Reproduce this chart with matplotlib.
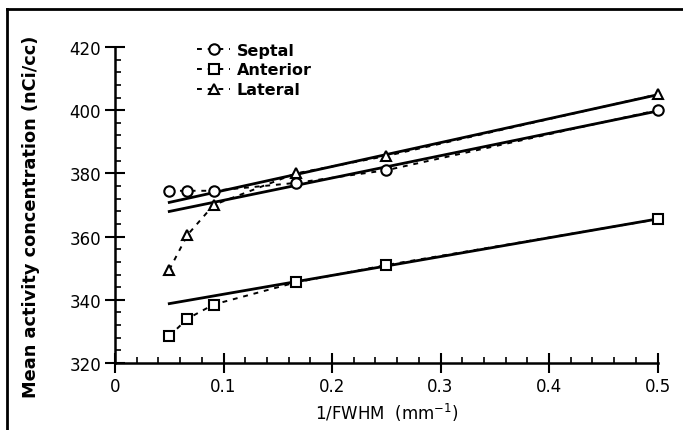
import numpy as np
import matplotlib
matplotlib.use("Agg")
import matplotlib.pyplot as plt
from matplotlib.lines import Line2D
from matplotlib.ticker import MultipleLocator

# 1/FWHM values (mm^-1), FWHM = 20, 15, 11, 6, 4, 2 mm
inv_fwhm = [0.05, 0.0667, 0.0909, 0.1667, 0.25, 0.5]

septal = [374.5, 374.5, 374.5, 377.0, 381.0, 400.0]
anterior = [328.5, 334.0, 338.5, 345.5, 351.0, 365.5]
lateral = [349.5, 360.5, 370.0, 380.0, 385.5, 405.0]

series_names = ["Septal", "Anterior", "Lateral"]
series_markers = ["o", "s", "^"]

# linear fit only through the three highest-resolution points
n_fit = 3

fig = plt.figure(figsize=(6.83, 4.31), dpi=100)
ax = fig.add_axes([0.1684, 0.1555, 0.7943, 0.7331])

for name, mk, vals in zip(series_names, series_markers,
                          [septal, anterior, lateral]):
    ax.plot(inv_fwhm, vals, linestyle=(0, (2.5, 3)), color="black",
            linewidth=1.4, marker=mk, markersize=7.5, markerfacecolor="white",
            markeredgecolor="black", markeredgewidth=1.5, label=name,
            zorder=3, clip_on=False)
    k, b = np.polyfit(inv_fwhm[-n_fit:], vals[-n_fit:], 1)
    xs = np.array([inv_fwhm[0], inv_fwhm[-1]])
    ax.plot(xs, k * xs + b, color="black", linewidth=2, zorder=2)

ax.set_xlim(0, 0.5)
ax.set_ylim(320, 420)
ax.set_xticks([0, 0.1, 0.2, 0.3, 0.4, 0.5])
ax.set_xticklabels(["0", "0.1", "0.2", "0.3", "0.4", "0.5"])
ax.set_yticks([320, 340, 360, 380, 400, 420])
ax.xaxis.set_minor_locator(MultipleLocator(0.02))
ax.yaxis.set_minor_locator(MultipleLocator(4))
ax.tick_params(which="major", direction="inout", length=14, width=1.5,
               labelsize=12, pad=3)
ax.tick_params(which="minor", direction="in", length=4, width=1.2)
for s in ["top", "right"]:
    ax.spines[s].set_visible(False)
for s in ["left", "bottom"]:
    ax.spines[s].set_linewidth(1.8)

ax.set_xlabel("1/FWHM  (mm$^{-1}$)", fontsize=12, labelpad=4)
ax.set_ylabel("Mean activity concentration (nCi/cc)", fontsize=12.8,
              fontweight="bold")
ax.yaxis.set_label_coords(-0.139, 0.465)

leg = ax.legend(loc="upper left", bbox_to_anchor=(0.151, 1.014), frameon=False,
                borderaxespad=0, borderpad=0,
                handlelength=2.1, handletextpad=0.4, labelspacing=0.3,
                prop={"weight": "bold", "size": 11.5})

# outer frame (top and left edges visible in the scan)
fig.add_artist(Line2D([7 / 683, 1.0], [1 - 10 / 431, 1 - 10 / 431],
                      transform=fig.transFigure, color="black", linewidth=2))
fig.add_artist(Line2D([7 / 683, 7 / 683], [0.0, 1 - 10 / 431],
                      transform=fig.transFigure, color="black", linewidth=2))

fig.savefig("out.png", dpi=100)
